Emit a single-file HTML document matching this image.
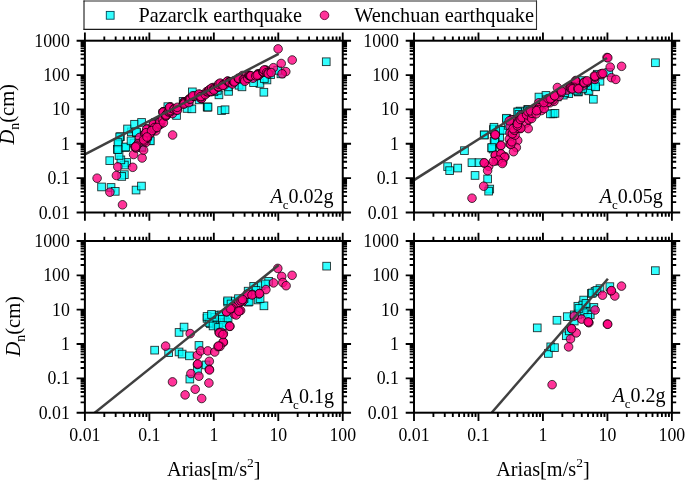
<!DOCTYPE html>
<html><head><meta charset="utf-8"><title>chart</title>
<style>html,body{margin:0;padding:0;background:#fff}svg{display:block;will-change:transform}text{fill:#000;font-family:"Liberation Serif",serif}</style></head>
<body>
<svg width="685" height="480" viewBox="0 0 685 480">
<rect x="0" y="0" width="685" height="480" fill="#fff"/>
<clipPath id="cp0"><rect x="84.9" y="40.7" width="257.85" height="171.8"/></clipPath>
<g clip-path="url(#cp0)">
<g fill="#00ffff" fill-opacity="0.8" stroke-opacity="0.8" stroke="#000" stroke-width="0.9">
<rect x="97.7" y="183.1" width="7.7" height="7.7"/><rect x="107.2" y="183.6" width="7.7" height="7.7"/><rect x="111.4" y="187.5" width="7.7" height="7.7"/><rect x="132.2" y="186.2" width="7.7" height="7.7"/><rect x="137.6" y="182.2" width="7.7" height="7.7"/><rect x="105.9" y="156.8" width="7.7" height="7.7"/><rect x="120.5" y="170.8" width="7.7" height="7.7"/><rect x="117.9" y="172.6" width="7.7" height="7.7"/><rect x="122.8" y="158.6" width="7.7" height="7.7"/><rect x="120.5" y="161.2" width="7.7" height="7.7"/><rect x="117.0" y="156.0" width="7.7" height="7.7"/><rect x="115.2" y="151.6" width="7.7" height="7.7"/><rect x="113.5" y="145.5" width="7.7" height="7.7"/><rect x="121.4" y="143.7" width="7.7" height="7.7"/><rect x="114.7" y="139.2" width="7.7" height="7.7"/><rect x="116.6" y="132.8" width="7.7" height="7.7"/><rect x="130.1" y="139.2" width="7.7" height="7.7"/><rect x="138.0" y="143.7" width="7.7" height="7.7"/><rect x="145.8" y="136.7" width="7.7" height="7.7"/><rect x="127.5" y="128.0" width="7.7" height="7.7"/><rect x="132.7" y="128.8" width="7.7" height="7.7"/><rect x="115.8" y="133.1" width="7.7" height="7.7"/><rect x="123.7" y="125.1" width="7.7" height="7.7"/><rect x="130.7" y="120.4" width="7.7" height="7.7"/><rect x="137.7" y="118.6" width="7.7" height="7.7"/><rect x="114.1" y="138.7" width="7.7" height="7.7"/><rect x="122.0" y="143.1" width="7.7" height="7.7"/><rect x="114.1" y="145.7" width="7.7" height="7.7"/><rect x="132.5" y="128.2" width="7.7" height="7.7"/><rect x="127.2" y="137.0" width="7.7" height="7.7"/><rect x="137.7" y="143.1" width="7.7" height="7.7"/><rect x="146.5" y="137.0" width="7.7" height="7.7"/><rect x="203.3" y="103.2" width="7.7" height="7.7"/><rect x="183.2" y="104.6" width="7.7" height="7.7"/><rect x="172.7" y="111.6" width="7.7" height="7.7"/><rect x="188.5" y="88.0" width="7.7" height="7.7"/><rect x="164.0" y="102.8" width="7.7" height="7.7"/><rect x="203.7" y="103.2" width="7.7" height="7.7"/><rect x="217.7" y="106.7" width="7.7" height="7.7"/><rect x="221.2" y="105.9" width="7.7" height="7.7"/><rect x="260.0" y="88.4" width="7.7" height="7.7"/><rect x="224.7" y="87.5" width="7.7" height="7.7"/><rect x="215.1" y="91.0" width="7.7" height="7.7"/><rect x="235.2" y="81.4" width="7.7" height="7.7"/><rect x="256.1" y="79.6" width="7.7" height="7.7"/><rect x="263.1" y="76.1" width="7.7" height="7.7"/><rect x="266.8" y="70.8" width="7.7" height="7.7"/><rect x="188.0" y="105.0" width="7.7" height="7.7"/><rect x="277.1" y="70.0" width="7.7" height="7.7"/><rect x="273.8" y="66.5" width="7.7" height="7.7"/><rect x="322.4" y="57.9" width="7.7" height="7.7"/><rect x="204.2" y="103.2" width="7.7" height="7.7"/><rect x="151.8" y="118.5" width="7.7" height="7.7"/><rect x="159.1" y="109.6" width="7.7" height="7.7"/><rect x="165.5" y="105.8" width="7.7" height="7.7"/><rect x="179.3" y="97.5" width="7.7" height="7.7"/><rect x="185.1" y="98.0" width="7.7" height="7.7"/><rect x="195.3" y="96.0" width="7.7" height="7.7"/><rect x="210.1" y="87.9" width="7.7" height="7.7"/><rect x="213.5" y="86.5" width="7.7" height="7.7"/><rect x="224.3" y="83.0" width="7.7" height="7.7"/><rect x="238.1" y="83.0" width="7.7" height="7.7"/><rect x="249.7" y="78.8" width="7.7" height="7.7"/><rect x="260.5" y="74.7" width="7.7" height="7.7"/>
</g>
<g fill="#ff007f" fill-opacity="0.8" stroke-opacity="0.8" stroke="#000" stroke-width="0.9">
<circle cx="97.1" cy="178.2" r="4.3"/><circle cx="109.9" cy="192.2" r="4.3"/><circle cx="122.5" cy="204.8" r="4.3"/><circle cx="116.4" cy="175.5" r="4.3"/><circle cx="117.8" cy="166.8" r="4.3"/><circle cx="132.7" cy="167.3" r="4.3"/><circle cx="142.1" cy="158.0" r="4.3"/><circle cx="133.6" cy="154.5" r="4.3"/><circle cx="136.0" cy="148.0" r="4.3"/><circle cx="142.3" cy="140.9" r="4.3"/><circle cx="139.7" cy="137.4" r="4.3"/><circle cx="147.4" cy="137.9" r="4.3"/><circle cx="172.6" cy="135.0" r="4.3"/><circle cx="151.4" cy="131.8" r="4.3"/><circle cx="155.8" cy="130.9" r="4.3"/><circle cx="278.1" cy="48.9" r="4.3"/><circle cx="292.2" cy="60.0" r="4.3"/><circle cx="281.2" cy="63.5" r="4.3"/><circle cx="273.4" cy="67.7" r="4.3"/><circle cx="285.8" cy="71.6" r="4.3"/><circle cx="282.1" cy="73.8" r="4.3"/><circle cx="266.2" cy="70.3" r="4.3"/><circle cx="260.0" cy="73.8" r="4.3"/><circle cx="253.0" cy="78.2" r="4.3"/><circle cx="242.5" cy="75.5" r="4.3"/><circle cx="143.6" cy="150.1" r="4.3"/><circle cx="138.0" cy="143.9" r="4.3"/><circle cx="135.1" cy="146.9" r="4.3"/><circle cx="136.5" cy="146.0" r="4.3"/><circle cx="135.6" cy="146.9" r="4.3"/><circle cx="145.9" cy="142.4" r="4.3"/><circle cx="144.6" cy="141.1" r="4.3"/><circle cx="147.5" cy="136.0" r="4.3"/><circle cx="147.1" cy="135.3" r="4.3"/><circle cx="147.4" cy="138.1" r="4.3"/><circle cx="145.0" cy="133.6" r="4.3"/><circle cx="145.0" cy="133.8" r="4.3"/><circle cx="150.0" cy="132.8" r="4.3"/><circle cx="150.9" cy="132.6" r="4.3"/><circle cx="149.9" cy="133.5" r="4.3"/><circle cx="146.0" cy="138.3" r="4.3"/><circle cx="147.3" cy="128.8" r="4.3"/><circle cx="146.7" cy="129.2" r="4.3"/><circle cx="146.1" cy="132.7" r="4.3"/><circle cx="152.8" cy="128.0" r="4.3"/><circle cx="153.5" cy="128.4" r="4.3"/><circle cx="157.2" cy="125.6" r="4.3"/><circle cx="157.0" cy="124.5" r="4.3"/><circle cx="153.9" cy="123.5" r="4.3"/><circle cx="153.3" cy="124.4" r="4.3"/><circle cx="155.1" cy="128.4" r="4.3"/><circle cx="154.6" cy="127.5" r="4.3"/><circle cx="159.2" cy="124.7" r="4.3"/><circle cx="160.6" cy="124.2" r="4.3"/><circle cx="159.7" cy="123.7" r="4.3"/><circle cx="159.9" cy="121.7" r="4.3"/><circle cx="162.4" cy="119.6" r="4.3"/><circle cx="163.6" cy="111.7" r="4.3"/><circle cx="163.0" cy="111.8" r="4.3"/><circle cx="163.1" cy="112.2" r="4.3"/><circle cx="151.5" cy="130.7" r="4.3"/><circle cx="163.4" cy="122.8" r="4.3"/><circle cx="143.6" cy="139.9" r="4.3"/><circle cx="172.5" cy="113.6" r="4.3"/><circle cx="157.0" cy="127.5" r="4.3"/><circle cx="147.0" cy="137.0" r="4.3"/><circle cx="165.8" cy="116.1" r="4.3"/><circle cx="166.0" cy="115.7" r="4.3"/><circle cx="166.0" cy="114.9" r="4.3"/><circle cx="168.3" cy="111.8" r="4.3"/><circle cx="169.1" cy="111.8" r="4.3"/><circle cx="170.6" cy="111.6" r="4.3"/><circle cx="170.7" cy="110.5" r="4.3"/><circle cx="171.2" cy="108.1" r="4.3"/><circle cx="170.5" cy="106.9" r="4.3"/><circle cx="169.6" cy="107.4" r="4.3"/><circle cx="174.2" cy="108.8" r="4.3"/><circle cx="174.1" cy="109.4" r="4.3"/><circle cx="177.0" cy="109.2" r="4.3"/><circle cx="176.4" cy="110.0" r="4.3"/><circle cx="177.4" cy="110.2" r="4.3"/><circle cx="177.3" cy="107.3" r="4.3"/><circle cx="183.4" cy="104.1" r="4.3"/><circle cx="184.1" cy="102.0" r="4.3"/><circle cx="183.8" cy="101.9" r="4.3"/><circle cx="185.2" cy="102.8" r="4.3"/><circle cx="184.6" cy="102.7" r="4.3"/><circle cx="184.4" cy="102.6" r="4.3"/><circle cx="184.1" cy="103.9" r="4.3"/><circle cx="189.0" cy="99.0" r="4.3"/><circle cx="188.8" cy="102.6" r="4.3"/><circle cx="189.8" cy="98.9" r="4.3"/><circle cx="190.3" cy="99.1" r="4.3"/><circle cx="193.9" cy="96.0" r="4.3"/><circle cx="194.0" cy="96.3" r="4.3"/><circle cx="192.7" cy="95.8" r="4.3"/><circle cx="199.7" cy="94.6" r="4.3"/><circle cx="200.2" cy="94.6" r="4.3"/><circle cx="198.9" cy="94.0" r="4.3"/><circle cx="201.3" cy="98.5" r="4.3"/><circle cx="200.5" cy="98.2" r="4.3"/><circle cx="201.7" cy="98.5" r="4.3"/><circle cx="201.5" cy="96.7" r="4.3"/><circle cx="200.7" cy="96.5" r="4.3"/><circle cx="206.5" cy="93.4" r="4.3"/><circle cx="205.2" cy="94.6" r="4.3"/><circle cx="206.7" cy="91.6" r="4.3"/><circle cx="207.9" cy="91.8" r="4.3"/><circle cx="208.6" cy="90.5" r="4.3"/><circle cx="209.8" cy="89.5" r="4.3"/><circle cx="211.1" cy="91.7" r="4.3"/><circle cx="211.7" cy="90.1" r="4.3"/><circle cx="210.7" cy="91.4" r="4.3"/><circle cx="213.5" cy="88.2" r="4.3"/><circle cx="213.1" cy="87.5" r="4.3"/><circle cx="211.6" cy="88.1" r="4.3"/><circle cx="214.5" cy="89.6" r="4.3"/><circle cx="213.8" cy="88.8" r="4.3"/><circle cx="213.9" cy="90.1" r="4.3"/><circle cx="220.8" cy="84.1" r="4.3"/><circle cx="219.1" cy="85.8" r="4.3"/><circle cx="217.9" cy="86.5" r="4.3"/><circle cx="218.5" cy="87.2" r="4.3"/><circle cx="218.4" cy="86.7" r="4.3"/><circle cx="218.6" cy="84.1" r="4.3"/><circle cx="220.2" cy="83.1" r="4.3"/><circle cx="223.3" cy="84.6" r="4.3"/><circle cx="224.5" cy="85.1" r="4.3"/><circle cx="222.8" cy="85.4" r="4.3"/><circle cx="227.8" cy="81.1" r="4.3"/><circle cx="227.4" cy="81.2" r="4.3"/><circle cx="229.3" cy="82.0" r="4.3"/><circle cx="229.3" cy="82.3" r="4.3"/><circle cx="229.7" cy="82.2" r="4.3"/><circle cx="232.4" cy="84.0" r="4.3"/><circle cx="233.2" cy="81.4" r="4.3"/><circle cx="234.1" cy="81.5" r="4.3"/><circle cx="233.8" cy="81.1" r="4.3"/><circle cx="235.1" cy="81.2" r="4.3"/><circle cx="234.3" cy="82.0" r="4.3"/><circle cx="238.4" cy="78.7" r="4.3"/><circle cx="238.4" cy="78.2" r="4.3"/><circle cx="240.2" cy="78.2" r="4.3"/><circle cx="238.7" cy="78.5" r="4.3"/><circle cx="243.4" cy="79.4" r="4.3"/><circle cx="244.3" cy="79.9" r="4.3"/><circle cx="244.8" cy="81.3" r="4.3"/><circle cx="247.8" cy="78.4" r="4.3"/><circle cx="249.3" cy="75.6" r="4.3"/><circle cx="248.9" cy="75.2" r="4.3"/><circle cx="249.8" cy="75.6" r="4.3"/><circle cx="250.3" cy="75.7" r="4.3"/><circle cx="250.9" cy="75.9" r="4.3"/><circle cx="258.4" cy="75.5" r="4.3"/><circle cx="258.5" cy="75.1" r="4.3"/><circle cx="257.4" cy="74.7" r="4.3"/><circle cx="255.7" cy="75.9" r="4.3"/><circle cx="258.0" cy="73.7" r="4.3"/><circle cx="258.1" cy="74.6" r="4.3"/><circle cx="257.2" cy="75.2" r="4.3"/><circle cx="263.1" cy="72.0" r="4.3"/><circle cx="263.1" cy="72.2" r="4.3"/><circle cx="263.5" cy="71.7" r="4.3"/><circle cx="265.3" cy="70.0" r="4.3"/><circle cx="264.0" cy="70.0" r="4.3"/><circle cx="266.6" cy="72.6" r="4.3"/><circle cx="268.1" cy="73.1" r="4.3"/><circle cx="268.3" cy="73.8" r="4.3"/><circle cx="271.2" cy="72.6" r="4.3"/>
</g>
<path d="M84.9 154.3L278.7 53.8" stroke="#404040" stroke-width="2.5" fill="none"/>
</g>
<rect x="84.9" y="40.7" width="257.85" height="171.8" fill="none" stroke="#000" stroke-width="2"/>
<path d="M84.9 40.7v-8.3M84.9 212.5v8.3M104.31 40.7v-4.3M104.31 212.5v4.3M115.66 40.7v-4.3M115.66 212.5v4.3M123.71 40.7v-4.3M123.71 212.5v4.3M129.96 40.7v-4.3M129.96 212.5v4.3M135.06 40.7v-4.3M135.06 212.5v4.3M139.38 40.7v-4.3M139.38 212.5v4.3M143.12 40.7v-4.3M143.12 212.5v4.3M146.41 40.7v-4.3M146.41 212.5v4.3M149.36 40.7v-8.3M149.36 212.5v8.3M168.77 40.7v-4.3M168.77 212.5v4.3M180.12 40.7v-4.3M180.12 212.5v4.3M188.17 40.7v-4.3M188.17 212.5v4.3M194.42 40.7v-4.3M194.42 212.5v4.3M199.52 40.7v-4.3M199.52 212.5v4.3M203.84 40.7v-4.3M203.84 212.5v4.3M207.58 40.7v-4.3M207.58 212.5v4.3M210.88 40.7v-4.3M210.88 212.5v4.3M213.83 40.7v-8.3M213.83 212.5v8.3M233.23 40.7v-4.3M233.23 212.5v4.3M244.58 40.7v-4.3M244.58 212.5v4.3M252.64 40.7v-4.3M252.64 212.5v4.3M258.88 40.7v-4.3M258.88 212.5v4.3M263.99 40.7v-4.3M263.99 212.5v4.3M268.3 40.7v-4.3M268.3 212.5v4.3M272.04 40.7v-4.3M272.04 212.5v4.3M275.34 40.7v-4.3M275.34 212.5v4.3M278.29 40.7v-8.3M278.29 212.5v8.3M297.69 40.7v-4.3M297.69 212.5v4.3M309.04 40.7v-4.3M309.04 212.5v4.3M317.1 40.7v-4.3M317.1 212.5v4.3M323.34 40.7v-4.3M323.34 212.5v4.3M328.45 40.7v-4.3M328.45 212.5v4.3M332.76 40.7v-4.3M332.76 212.5v4.3M336.5 40.7v-4.3M336.5 212.5v4.3M339.8 40.7v-4.3M339.8 212.5v4.3M342.75 40.7v-8.3M342.75 212.5v8.3M84.9 212.5h-8.3M342.75 212.5h8.3M84.9 202.16h-4.3M342.75 202.16h4.3M84.9 196.11h-4.3M342.75 196.11h4.3M84.9 191.81h-4.3M342.75 191.81h4.3M84.9 188.48h-4.3M342.75 188.48h4.3M84.9 185.76h-4.3M342.75 185.76h4.3M84.9 183.46h-4.3M342.75 183.46h4.3M84.9 181.47h-4.3M342.75 181.47h4.3M84.9 179.71h-4.3M342.75 179.71h4.3M84.9 178.14h-8.3M342.75 178.14h8.3M84.9 167.8h-4.3M342.75 167.8h4.3M84.9 161.75h-4.3M342.75 161.75h4.3M84.9 157.45h-4.3M342.75 157.45h4.3M84.9 154.12h-4.3M342.75 154.12h4.3M84.9 151.4h-4.3M342.75 151.4h4.3M84.9 149.1h-4.3M342.75 149.1h4.3M84.9 147.11h-4.3M342.75 147.11h4.3M84.9 145.35h-4.3M342.75 145.35h4.3M84.9 143.78h-8.3M342.75 143.78h8.3M84.9 133.44h-4.3M342.75 133.44h4.3M84.9 127.39h-4.3M342.75 127.39h4.3M84.9 123.09h-4.3M342.75 123.09h4.3M84.9 119.76h-4.3M342.75 119.76h4.3M84.9 117.04h-4.3M342.75 117.04h4.3M84.9 114.74h-4.3M342.75 114.74h4.3M84.9 112.75h-4.3M342.75 112.75h4.3M84.9 110.99h-4.3M342.75 110.99h4.3M84.9 109.42h-8.3M342.75 109.42h8.3M84.9 99.08h-4.3M342.75 99.08h4.3M84.9 93.03h-4.3M342.75 93.03h4.3M84.9 88.73h-4.3M342.75 88.73h4.3M84.9 85.4h-4.3M342.75 85.4h4.3M84.9 82.68h-4.3M342.75 82.68h4.3M84.9 80.38h-4.3M342.75 80.38h4.3M84.9 78.39h-4.3M342.75 78.39h4.3M84.9 76.63h-4.3M342.75 76.63h4.3M84.9 75.06h-8.3M342.75 75.06h8.3M84.9 64.72h-4.3M342.75 64.72h4.3M84.9 58.67h-4.3M342.75 58.67h4.3M84.9 54.37h-4.3M342.75 54.37h4.3M84.9 51.04h-4.3M342.75 51.04h4.3M84.9 48.32h-4.3M342.75 48.32h4.3M84.9 46.02h-4.3M342.75 46.02h4.3M84.9 44.03h-4.3M342.75 44.03h4.3M84.9 42.27h-4.3M342.75 42.27h4.3M84.9 40.7h-8.3M342.75 40.7h8.3" stroke="#000" stroke-width="1.85" fill="none"/>
<text x="69.8" y="218.5" text-anchor="end"  font-size="17.8">0.01</text>
<text x="69.8" y="184.14" text-anchor="end"  font-size="17.8">0.1</text>
<text x="69.8" y="149.78" text-anchor="end"  font-size="17.8">1</text>
<text x="69.8" y="115.42" text-anchor="end"  font-size="17.8">10</text>
<text x="69.8" y="81.06" text-anchor="end"  font-size="17.8">100</text>
<text x="69.8" y="46.7" text-anchor="end"  font-size="17.8">1000</text>
<text transform="translate(14.3 114.3) rotate(-90)" text-anchor="middle"  font-size="20.5"><tspan font-style="italic">D</tspan><tspan font-size="13.8" dy="5">n</tspan><tspan dy="-5">(cm)</tspan></text>
<text x="333.5" y="202.5" text-anchor="end"  font-size="20"><tspan font-style="italic">A</tspan><tspan font-size="13" dy="6">c</tspan><tspan dy="-6">0.02g</tspan></text>
<clipPath id="cp1"><rect x="414" y="40.7" width="257.9" height="171.8"/></clipPath>
<g clip-path="url(#cp1)">
<g fill="#00ffff" fill-opacity="0.8" stroke-opacity="0.8" stroke="#000" stroke-width="0.9">
<rect x="443.8" y="162.8" width="7.7" height="7.7"/><rect x="445.8" y="166.8" width="7.7" height="7.7"/><rect x="453.9" y="164.2" width="7.7" height="7.7"/><rect x="460.6" y="146.8" width="7.7" height="7.7"/><rect x="468.1" y="158.8" width="7.7" height="7.7"/><rect x="475.1" y="158.8" width="7.7" height="7.7"/><rect x="471.2" y="171.6" width="7.7" height="7.7"/><rect x="483.8" y="175.1" width="7.7" height="7.7"/><rect x="485.9" y="185.2" width="7.7" height="7.7"/><rect x="484.8" y="187.3" width="7.7" height="7.7"/><rect x="480.5" y="131.1" width="7.7" height="7.7"/><rect x="490.2" y="125.2" width="7.7" height="7.7"/><rect x="490.2" y="137.6" width="7.7" height="7.7"/><rect x="489.2" y="145.2" width="7.7" height="7.7"/><rect x="495.8" y="126.8" width="7.7" height="7.7"/><rect x="495.8" y="133.2" width="7.7" height="7.7"/><rect x="504.3" y="115.9" width="7.7" height="7.7"/><rect x="516.2" y="107.2" width="7.7" height="7.7"/><rect x="549.1" y="110.0" width="7.7" height="7.7"/><rect x="546.6" y="110.0" width="7.7" height="7.7"/><rect x="551.1" y="109.5" width="7.7" height="7.7"/><rect x="535.1" y="93.2" width="7.7" height="7.7"/><rect x="542.1" y="91.6" width="7.7" height="7.7"/><rect x="523.9" y="105.6" width="7.7" height="7.7"/><rect x="514.1" y="108.2" width="7.7" height="7.7"/><rect x="502.8" y="115.2" width="7.7" height="7.7"/><rect x="489.6" y="125.7" width="7.7" height="7.7"/><rect x="491.4" y="138.0" width="7.7" height="7.7"/><rect x="487.9" y="144.1" width="7.7" height="7.7"/><rect x="574.5" y="88.1" width="7.7" height="7.7"/><rect x="584.1" y="86.2" width="7.7" height="7.7"/><rect x="564.9" y="89.8" width="7.7" height="7.7"/><rect x="578.1" y="76.7" width="7.7" height="7.7"/><rect x="651.6" y="58.9" width="7.7" height="7.7"/><rect x="589.5" y="95.4" width="7.7" height="7.7"/><rect x="585.1" y="87.0" width="7.7" height="7.7"/><rect x="591.8" y="82.6" width="7.7" height="7.7"/><rect x="574.2" y="87.9" width="7.7" height="7.7"/><rect x="596.1" y="77.4" width="7.7" height="7.7"/><rect x="604.9" y="68.6" width="7.7" height="7.7"/><rect x="593.5" y="70.4" width="7.7" height="7.7"/><rect x="480.3" y="131.1" width="7.7" height="7.7"/><rect x="490.1" y="123.4" width="7.7" height="7.7"/><rect x="495.8" y="126.2" width="7.7" height="7.7"/><rect x="490.8" y="137.3" width="7.7" height="7.7"/><rect x="488.0" y="143.7" width="7.7" height="7.7"/><rect x="502.6" y="114.4" width="7.7" height="7.7"/><rect x="513.9" y="108.1" width="7.7" height="7.7"/><rect x="524.4" y="106.0" width="7.7" height="7.7"/><rect x="499.4" y="126.4" width="7.7" height="7.7"/><rect x="504.6" y="121.6" width="7.7" height="7.7"/><rect x="509.4" y="115.6" width="7.7" height="7.7"/><rect x="515.2" y="110.6" width="7.7" height="7.7"/><rect x="523.8" y="107.1" width="7.7" height="7.7"/><rect x="527.5" y="108.3" width="7.7" height="7.7"/><rect x="534.5" y="104.0" width="7.7" height="7.7"/><rect x="539.1" y="99.1" width="7.7" height="7.7"/><rect x="542.7" y="95.9" width="7.7" height="7.7"/><rect x="553.4" y="93.1" width="7.7" height="7.7"/><rect x="559.4" y="91.3" width="7.7" height="7.7"/><rect x="560.9" y="88.9" width="7.7" height="7.7"/><rect x="572.9" y="86.5" width="7.7" height="7.7"/><rect x="578.7" y="84.6" width="7.7" height="7.7"/><rect x="587.3" y="81.6" width="7.7" height="7.7"/><rect x="591.6" y="83.0" width="7.7" height="7.7"/>
</g>
<g fill="#ff007f" fill-opacity="0.8" stroke-opacity="0.8" stroke="#000" stroke-width="0.9">
<circle cx="472.0" cy="198.2" r="4.3"/><circle cx="483.7" cy="186.2" r="4.3"/><circle cx="484.4" cy="163.1" r="4.3"/><circle cx="488.7" cy="166.3" r="4.3"/><circle cx="487.6" cy="170.6" r="4.3"/><circle cx="495.2" cy="134.9" r="4.3"/><circle cx="500.6" cy="145.7" r="4.3"/><circle cx="495.2" cy="155.5" r="4.3"/><circle cx="500.6" cy="154.4" r="4.3"/><circle cx="496.3" cy="160.9" r="4.3"/><circle cx="502.8" cy="162.0" r="4.3"/><circle cx="505.0" cy="156.6" r="4.3"/><circle cx="494.7" cy="134.2" r="4.3"/><circle cx="501.0" cy="145.4" r="4.3"/><circle cx="495.4" cy="155.2" r="4.3"/><circle cx="501.0" cy="153.8" r="4.3"/><circle cx="504.4" cy="157.3" r="4.3"/><circle cx="498.2" cy="160.1" r="4.3"/><circle cx="493.3" cy="161.5" r="4.3"/><circle cx="484.2" cy="162.8" r="4.3"/><circle cx="502.3" cy="163.5" r="4.3"/><circle cx="510.0" cy="126.5" r="4.3"/><circle cx="516.3" cy="122.3" r="4.3"/><circle cx="511.4" cy="119.6" r="4.3"/><circle cx="520.5" cy="115.4" r="4.3"/><circle cx="530.3" cy="117.5" r="4.3"/><circle cx="526.1" cy="123.0" r="4.3"/><circle cx="520.5" cy="128.6" r="4.3"/><circle cx="514.9" cy="130.0" r="4.3"/><circle cx="528.2" cy="128.6" r="4.3"/><circle cx="510.0" cy="132.8" r="4.3"/><circle cx="509.3" cy="139.1" r="4.3"/><circle cx="517.7" cy="140.5" r="4.3"/><circle cx="510.0" cy="144.0" r="4.3"/><circle cx="516.3" cy="147.5" r="4.3"/><circle cx="513.5" cy="151.7" r="4.3"/><circle cx="537.3" cy="107.0" r="4.3"/><circle cx="541.5" cy="110.5" r="4.3"/><circle cx="545.0" cy="104.2" r="4.3"/><circle cx="549.8" cy="102.8" r="4.3"/><circle cx="554.0" cy="101.4" r="4.3"/><circle cx="538.7" cy="102.8" r="4.3"/><circle cx="495.3" cy="134.8" r="4.3"/><circle cx="509.3" cy="120.8" r="4.3"/><circle cx="519.8" cy="117.3" r="4.3"/><circle cx="530.3" cy="117.3" r="4.3"/><circle cx="539.0" cy="107.7" r="4.3"/><circle cx="547.8" cy="102.4" r="4.3"/><circle cx="553.0" cy="99.8" r="4.3"/><circle cx="559.2" cy="96.3" r="4.3"/><circle cx="557.4" cy="87.5" r="4.3"/><circle cx="567.1" cy="90.1" r="4.3"/><circle cx="572.3" cy="84.9" r="4.3"/><circle cx="575.8" cy="80.5" r="4.3"/><circle cx="582.8" cy="85.8" r="4.3"/><circle cx="587.2" cy="82.3" r="4.3"/><circle cx="607.0" cy="57.5" r="4.3"/><circle cx="607.8" cy="57.8" r="4.3"/><circle cx="621.6" cy="66.3" r="4.3"/><circle cx="610.2" cy="67.1" r="4.3"/><circle cx="602.1" cy="73.8" r="4.3"/><circle cx="611.4" cy="77.7" r="4.3"/><circle cx="615.8" cy="79.4" r="4.3"/><circle cx="594.8" cy="79.4" r="4.3"/><circle cx="586.9" cy="82.0" r="4.3"/><circle cx="579.9" cy="85.5" r="4.3"/><circle cx="575.5" cy="81.2" r="4.3"/><circle cx="573.8" cy="87.3" r="4.3"/><circle cx="510.8" cy="144.4" r="4.3"/><circle cx="511.8" cy="141.8" r="4.3"/><circle cx="512.7" cy="133.9" r="4.3"/><circle cx="515.1" cy="135.1" r="4.3"/><circle cx="512.3" cy="133.7" r="4.3"/><circle cx="514.5" cy="130.3" r="4.3"/><circle cx="518.3" cy="128.3" r="4.3"/><circle cx="513.1" cy="128.7" r="4.3"/><circle cx="520.8" cy="128.1" r="4.3"/><circle cx="517.4" cy="125.8" r="4.3"/><circle cx="518.8" cy="120.6" r="4.3"/><circle cx="517.5" cy="123.7" r="4.3"/><circle cx="520.4" cy="119.4" r="4.3"/><circle cx="522.0" cy="117.6" r="4.3"/><circle cx="528.8" cy="119.7" r="4.3"/><circle cx="526.6" cy="114.8" r="4.3"/><circle cx="531.7" cy="118.5" r="4.3"/><circle cx="528.0" cy="111.7" r="4.3"/><circle cx="532.0" cy="113.3" r="4.3"/><circle cx="530.4" cy="110.8" r="4.3"/><circle cx="536.2" cy="113.8" r="4.3"/><circle cx="538.2" cy="109.6" r="4.3"/><circle cx="536.6" cy="110.7" r="4.3"/><circle cx="544.2" cy="108.6" r="4.3"/><circle cx="543.9" cy="102.5" r="4.3"/><circle cx="548.0" cy="98.6" r="4.3"/><circle cx="551.7" cy="98.4" r="4.3"/><circle cx="550.3" cy="98.8" r="4.3"/><circle cx="554.4" cy="95.6" r="4.3"/><circle cx="554.7" cy="95.8" r="4.3"/><circle cx="561.6" cy="92.4" r="4.3"/><circle cx="561.5" cy="91.2" r="4.3"/><circle cx="570.7" cy="86.8" r="4.3"/><circle cx="570.1" cy="87.3" r="4.3"/><circle cx="570.5" cy="88.1" r="4.3"/><circle cx="571.5" cy="88.9" r="4.3"/><circle cx="572.6" cy="88.9" r="4.3"/><circle cx="577.8" cy="88.5" r="4.3"/><circle cx="578.6" cy="88.9" r="4.3"/><circle cx="584.1" cy="82.8" r="4.3"/><circle cx="584.5" cy="81.9" r="4.3"/><circle cx="584.1" cy="82.6" r="4.3"/><circle cx="587.1" cy="80.8" r="4.3"/><circle cx="595.0" cy="77.1" r="4.3"/><circle cx="594.4" cy="75.9" r="4.3"/><circle cx="595.0" cy="76.2" r="4.3"/><circle cx="601.8" cy="74.8" r="4.3"/><circle cx="601.1" cy="73.7" r="4.3"/><circle cx="602.9" cy="73.4" r="4.3"/>
</g>
<path d="M414.0 180.1L607.0 58.0" stroke="#404040" stroke-width="2.5" fill="none"/>
</g>
<rect x="414" y="40.7" width="257.9" height="171.8" fill="none" stroke="#000" stroke-width="2"/>
<path d="M414 40.7v-8.3M414 212.5v8.3M433.41 40.7v-4.3M433.41 212.5v4.3M444.76 40.7v-4.3M444.76 212.5v4.3M452.82 40.7v-4.3M452.82 212.5v4.3M459.07 40.7v-4.3M459.07 212.5v4.3M464.17 40.7v-4.3M464.17 212.5v4.3M468.49 40.7v-4.3M468.49 212.5v4.3M472.23 40.7v-4.3M472.23 212.5v4.3M475.52 40.7v-4.3M475.52 212.5v4.3M478.48 40.7v-8.3M478.48 212.5v8.3M497.88 40.7v-4.3M497.88 212.5v4.3M509.24 40.7v-4.3M509.24 212.5v4.3M517.29 40.7v-4.3M517.29 212.5v4.3M523.54 40.7v-4.3M523.54 212.5v4.3M528.65 40.7v-4.3M528.65 212.5v4.3M532.96 40.7v-4.3M532.96 212.5v4.3M536.7 40.7v-4.3M536.7 212.5v4.3M540 40.7v-4.3M540 212.5v4.3M542.95 40.7v-8.3M542.95 212.5v8.3M562.36 40.7v-4.3M562.36 212.5v4.3M573.71 40.7v-4.3M573.71 212.5v4.3M581.77 40.7v-4.3M581.77 212.5v4.3M588.02 40.7v-4.3M588.02 212.5v4.3M593.12 40.7v-4.3M593.12 212.5v4.3M597.44 40.7v-4.3M597.44 212.5v4.3M601.18 40.7v-4.3M601.18 212.5v4.3M604.47 40.7v-4.3M604.47 212.5v4.3M607.42 40.7v-8.3M607.42 212.5v8.3M626.83 40.7v-4.3M626.83 212.5v4.3M638.19 40.7v-4.3M638.19 212.5v4.3M646.24 40.7v-4.3M646.24 212.5v4.3M652.49 40.7v-4.3M652.49 212.5v4.3M657.6 40.7v-4.3M657.6 212.5v4.3M661.91 40.7v-4.3M661.91 212.5v4.3M665.65 40.7v-4.3M665.65 212.5v4.3M668.95 40.7v-4.3M668.95 212.5v4.3M671.9 40.7v-8.3M671.9 212.5v8.3M414 212.5h-8.3M671.9 212.5h8.3M414 202.16h-4.3M671.9 202.16h4.3M414 196.11h-4.3M671.9 196.11h4.3M414 191.81h-4.3M671.9 191.81h4.3M414 188.48h-4.3M671.9 188.48h4.3M414 185.76h-4.3M671.9 185.76h4.3M414 183.46h-4.3M671.9 183.46h4.3M414 181.47h-4.3M671.9 181.47h4.3M414 179.71h-4.3M671.9 179.71h4.3M414 178.14h-8.3M671.9 178.14h8.3M414 167.8h-4.3M671.9 167.8h4.3M414 161.75h-4.3M671.9 161.75h4.3M414 157.45h-4.3M671.9 157.45h4.3M414 154.12h-4.3M671.9 154.12h4.3M414 151.4h-4.3M671.9 151.4h4.3M414 149.1h-4.3M671.9 149.1h4.3M414 147.11h-4.3M671.9 147.11h4.3M414 145.35h-4.3M671.9 145.35h4.3M414 143.78h-8.3M671.9 143.78h8.3M414 133.44h-4.3M671.9 133.44h4.3M414 127.39h-4.3M671.9 127.39h4.3M414 123.09h-4.3M671.9 123.09h4.3M414 119.76h-4.3M671.9 119.76h4.3M414 117.04h-4.3M671.9 117.04h4.3M414 114.74h-4.3M671.9 114.74h4.3M414 112.75h-4.3M671.9 112.75h4.3M414 110.99h-4.3M671.9 110.99h4.3M414 109.42h-8.3M671.9 109.42h8.3M414 99.08h-4.3M671.9 99.08h4.3M414 93.03h-4.3M671.9 93.03h4.3M414 88.73h-4.3M671.9 88.73h4.3M414 85.4h-4.3M671.9 85.4h4.3M414 82.68h-4.3M671.9 82.68h4.3M414 80.38h-4.3M671.9 80.38h4.3M414 78.39h-4.3M671.9 78.39h4.3M414 76.63h-4.3M671.9 76.63h4.3M414 75.06h-8.3M671.9 75.06h8.3M414 64.72h-4.3M671.9 64.72h4.3M414 58.67h-4.3M671.9 58.67h4.3M414 54.37h-4.3M671.9 54.37h4.3M414 51.04h-4.3M671.9 51.04h4.3M414 48.32h-4.3M671.9 48.32h4.3M414 46.02h-4.3M671.9 46.02h4.3M414 44.03h-4.3M671.9 44.03h4.3M414 42.27h-4.3M671.9 42.27h4.3M414 40.7h-8.3M671.9 40.7h8.3" stroke="#000" stroke-width="1.85" fill="none"/>
<text x="398.9" y="218.5" text-anchor="end"  font-size="17.8">0.01</text>
<text x="398.9" y="184.14" text-anchor="end"  font-size="17.8">0.1</text>
<text x="398.9" y="149.78" text-anchor="end"  font-size="17.8">1</text>
<text x="398.9" y="115.42" text-anchor="end"  font-size="17.8">10</text>
<text x="398.9" y="81.06" text-anchor="end"  font-size="17.8">100</text>
<text x="398.9" y="46.7" text-anchor="end"  font-size="17.8">1000</text>
<text x="662.8" y="202.6" text-anchor="end"  font-size="20"><tspan font-style="italic">A</tspan><tspan font-size="13" dy="6">c</tspan><tspan dy="-6">0.05g</tspan></text>
<clipPath id="cp2"><rect x="84.9" y="241" width="257.85" height="171.7"/></clipPath>
<g clip-path="url(#cp2)">
<g fill="#00ffff" fill-opacity="0.8" stroke-opacity="0.8" stroke="#000" stroke-width="0.9">
<rect x="150.8" y="346.3" width="7.7" height="7.7"/><rect x="164.8" y="348.8" width="7.7" height="7.7"/><rect x="175.2" y="348.1" width="7.7" height="7.7"/><rect x="178.3" y="350.2" width="7.7" height="7.7"/><rect x="185.6" y="352.0" width="7.7" height="7.7"/><rect x="175.2" y="328.6" width="7.7" height="7.7"/><rect x="180.2" y="323.2" width="7.7" height="7.7"/><rect x="195.1" y="341.6" width="7.7" height="7.7"/><rect x="203.2" y="314.5" width="7.7" height="7.7"/><rect x="206.6" y="319.9" width="7.7" height="7.7"/><rect x="212.0" y="317.8" width="7.7" height="7.7"/><rect x="215.2" y="311.3" width="7.7" height="7.7"/><rect x="217.3" y="318.8" width="7.7" height="7.7"/><rect x="221.8" y="317.8" width="7.7" height="7.7"/><rect x="223.8" y="298.3" width="7.7" height="7.7"/><rect x="231.5" y="297.2" width="7.7" height="7.7"/><rect x="244.5" y="298.3" width="7.7" height="7.7"/><rect x="254.2" y="296.1" width="7.7" height="7.7"/><rect x="186.0" y="375.2" width="7.7" height="7.7"/><rect x="193.6" y="366.5" width="7.7" height="7.7"/><rect x="202.2" y="361.1" width="7.7" height="7.7"/><rect x="322.8" y="262.3" width="7.7" height="7.7"/><rect x="260.1" y="302.0" width="7.7" height="7.7"/><rect x="256.2" y="294.8" width="7.7" height="7.7"/><rect x="245.3" y="297.6" width="7.7" height="7.7"/><rect x="223.8" y="297.0" width="7.7" height="7.7"/><rect x="234.6" y="294.8" width="7.7" height="7.7"/><rect x="249.8" y="282.5" width="7.7" height="7.7"/><rect x="257.3" y="281.8" width="7.7" height="7.7"/><rect x="264.8" y="277.5" width="7.7" height="7.7"/><rect x="244.3" y="287.3" width="7.7" height="7.7"/><rect x="220.5" y="315.4" width="7.7" height="7.7"/><rect x="217.2" y="311.1" width="7.7" height="7.7"/><rect x="222.7" y="318.8" width="7.7" height="7.7"/><rect x="208.8" y="316.8" width="7.7" height="7.7"/><rect x="213.1" y="321.0" width="7.7" height="7.7"/><rect x="210.8" y="313.4" width="7.7" height="7.7"/><rect x="218.5" y="315.6" width="7.7" height="7.7"/><rect x="205.2" y="318.6" width="7.7" height="7.7"/><rect x="209.2" y="322.1" width="7.7" height="7.7"/><rect x="214.7" y="323.6" width="7.7" height="7.7"/><rect x="219.2" y="321.6" width="7.7" height="7.7"/><rect x="203.2" y="312.6" width="7.7" height="7.7"/><rect x="207.7" y="310.6" width="7.7" height="7.7"/><rect x="224.2" y="314.1" width="7.7" height="7.7"/><rect x="227.2" y="300.1" width="7.7" height="7.7"/><rect x="240.2" y="294.6" width="7.7" height="7.7"/><rect x="252.2" y="286.6" width="7.7" height="7.7"/><rect x="261.6" y="280.1" width="7.7" height="7.7"/>
</g>
<g fill="#ff007f" fill-opacity="0.8" stroke-opacity="0.8" stroke="#000" stroke-width="0.9">
<circle cx="165.6" cy="346.1" r="4.3"/><circle cx="172.5" cy="381.9" r="4.3"/><circle cx="185.1" cy="394.9" r="4.3"/><circle cx="195.2" cy="389.2" r="4.3"/><circle cx="201.7" cy="398.5" r="4.3"/><circle cx="208.9" cy="383.0" r="4.3"/><circle cx="190.9" cy="373.6" r="4.3"/><circle cx="198.9" cy="376.2" r="4.3"/><circle cx="197.4" cy="364.5" r="4.3"/><circle cx="209.3" cy="361.3" r="4.3"/><circle cx="209.3" cy="369.3" r="4.3"/><circle cx="197.4" cy="355.2" r="4.3"/><circle cx="200.6" cy="350.9" r="4.3"/><circle cx="207.8" cy="350.9" r="4.3"/><circle cx="214.7" cy="352.0" r="4.3"/><circle cx="218.0" cy="346.6" r="4.3"/><circle cx="223.4" cy="342.2" r="4.3"/><circle cx="219.1" cy="332.5" r="4.3"/><circle cx="223.4" cy="333.6" r="4.3"/><circle cx="229.9" cy="326.4" r="4.3"/><circle cx="190.2" cy="333.6" r="4.3"/><circle cx="226.6" cy="311.9" r="4.3"/><circle cx="231.0" cy="308.2" r="4.3"/><circle cx="234.2" cy="314.1" r="4.3"/><circle cx="239.6" cy="310.4" r="4.3"/><circle cx="238.6" cy="303.2" r="4.3"/><circle cx="242.9" cy="301.1" r="4.3"/><circle cx="277.8" cy="268.4" r="4.3"/><circle cx="292.1" cy="275.3" r="4.3"/><circle cx="281.7" cy="276.4" r="4.3"/><circle cx="282.8" cy="282.5" r="4.3"/><circle cx="286.1" cy="285.7" r="4.3"/><circle cx="273.5" cy="282.9" r="4.3"/><circle cx="265.9" cy="289.6" r="4.3"/><circle cx="259.0" cy="294.0" r="4.3"/><circle cx="252.5" cy="294.4" r="4.3"/><circle cx="247.1" cy="294.4" r="4.3"/><circle cx="241.7" cy="300.2" r="4.3"/><circle cx="231.9" cy="307.4" r="4.3"/><circle cx="226.5" cy="311.7" r="4.3"/><circle cx="240.6" cy="310.6" r="4.3"/><circle cx="236.2" cy="315.0" r="4.3"/><circle cx="229.7" cy="326.2" r="4.3"/><circle cx="221.1" cy="332.3" r="4.3"/><circle cx="223.2" cy="342.1" r="4.3"/><circle cx="220.0" cy="346.4" r="4.3"/><circle cx="247.6" cy="294.0" r="4.3"/><circle cx="252.0" cy="295.0" r="4.3"/><circle cx="259.5" cy="293.5" r="4.3"/><circle cx="233.0" cy="307.0" r="4.3"/><circle cx="231.5" cy="308.5" r="4.3"/><circle cx="241.0" cy="301.0" r="4.3"/><circle cx="242.5" cy="299.5" r="4.3"/><circle cx="219.5" cy="333.0" r="4.3"/><circle cx="223.0" cy="334.5" r="4.3"/><circle cx="218.5" cy="346.0" r="4.3"/><circle cx="197.8" cy="364.0" r="4.3"/><circle cx="209.5" cy="370.0" r="4.3"/><circle cx="230.3" cy="308.8" r="4.3"/><circle cx="238.9" cy="311.2" r="4.3"/>
</g>
<path d="M94.2 413.2L278.7 265.0" stroke="#404040" stroke-width="2.5" fill="none"/>
</g>
<rect x="84.9" y="241" width="257.85" height="171.7" fill="none" stroke="#000" stroke-width="2"/>
<path d="M84.9 241v-8.3M84.9 412.7v8.3M104.31 241v-4.3M104.31 412.7v4.3M115.66 241v-4.3M115.66 412.7v4.3M123.71 241v-4.3M123.71 412.7v4.3M129.96 241v-4.3M129.96 412.7v4.3M135.06 241v-4.3M135.06 412.7v4.3M139.38 241v-4.3M139.38 412.7v4.3M143.12 241v-4.3M143.12 412.7v4.3M146.41 241v-4.3M146.41 412.7v4.3M149.36 241v-8.3M149.36 412.7v8.3M168.77 241v-4.3M168.77 412.7v4.3M180.12 241v-4.3M180.12 412.7v4.3M188.17 241v-4.3M188.17 412.7v4.3M194.42 241v-4.3M194.42 412.7v4.3M199.52 241v-4.3M199.52 412.7v4.3M203.84 241v-4.3M203.84 412.7v4.3M207.58 241v-4.3M207.58 412.7v4.3M210.88 241v-4.3M210.88 412.7v4.3M213.83 241v-8.3M213.83 412.7v8.3M233.23 241v-4.3M233.23 412.7v4.3M244.58 241v-4.3M244.58 412.7v4.3M252.64 241v-4.3M252.64 412.7v4.3M258.88 241v-4.3M258.88 412.7v4.3M263.99 241v-4.3M263.99 412.7v4.3M268.3 241v-4.3M268.3 412.7v4.3M272.04 241v-4.3M272.04 412.7v4.3M275.34 241v-4.3M275.34 412.7v4.3M278.29 241v-8.3M278.29 412.7v8.3M297.69 241v-4.3M297.69 412.7v4.3M309.04 241v-4.3M309.04 412.7v4.3M317.1 241v-4.3M317.1 412.7v4.3M323.34 241v-4.3M323.34 412.7v4.3M328.45 241v-4.3M328.45 412.7v4.3M332.76 241v-4.3M332.76 412.7v4.3M336.5 241v-4.3M336.5 412.7v4.3M339.8 241v-4.3M339.8 412.7v4.3M342.75 241v-8.3M342.75 412.7v8.3M84.9 412.7h-8.3M342.75 412.7h8.3M84.9 402.36h-4.3M342.75 402.36h4.3M84.9 396.32h-4.3M342.75 396.32h4.3M84.9 392.03h-4.3M342.75 392.03h4.3M84.9 388.7h-4.3M342.75 388.7h4.3M84.9 385.98h-4.3M342.75 385.98h4.3M84.9 383.68h-4.3M342.75 383.68h4.3M84.9 381.69h-4.3M342.75 381.69h4.3M84.9 379.93h-4.3M342.75 379.93h4.3M84.9 378.36h-8.3M342.75 378.36h8.3M84.9 368.02h-4.3M342.75 368.02h4.3M84.9 361.98h-4.3M342.75 361.98h4.3M84.9 357.69h-4.3M342.75 357.69h4.3M84.9 354.36h-4.3M342.75 354.36h4.3M84.9 351.64h-4.3M342.75 351.64h4.3M84.9 349.34h-4.3M342.75 349.34h4.3M84.9 347.35h-4.3M342.75 347.35h4.3M84.9 345.59h-4.3M342.75 345.59h4.3M84.9 344.02h-8.3M342.75 344.02h8.3M84.9 333.68h-4.3M342.75 333.68h4.3M84.9 327.64h-4.3M342.75 327.64h4.3M84.9 323.35h-4.3M342.75 323.35h4.3M84.9 320.02h-4.3M342.75 320.02h4.3M84.9 317.3h-4.3M342.75 317.3h4.3M84.9 315h-4.3M342.75 315h4.3M84.9 313.01h-4.3M342.75 313.01h4.3M84.9 311.25h-4.3M342.75 311.25h4.3M84.9 309.68h-8.3M342.75 309.68h8.3M84.9 299.34h-4.3M342.75 299.34h4.3M84.9 293.3h-4.3M342.75 293.3h4.3M84.9 289.01h-4.3M342.75 289.01h4.3M84.9 285.68h-4.3M342.75 285.68h4.3M84.9 282.96h-4.3M342.75 282.96h4.3M84.9 280.66h-4.3M342.75 280.66h4.3M84.9 278.67h-4.3M342.75 278.67h4.3M84.9 276.91h-4.3M342.75 276.91h4.3M84.9 275.34h-8.3M342.75 275.34h8.3M84.9 265h-4.3M342.75 265h4.3M84.9 258.96h-4.3M342.75 258.96h4.3M84.9 254.67h-4.3M342.75 254.67h4.3M84.9 251.34h-4.3M342.75 251.34h4.3M84.9 248.62h-4.3M342.75 248.62h4.3M84.9 246.32h-4.3M342.75 246.32h4.3M84.9 244.33h-4.3M342.75 244.33h4.3M84.9 242.57h-4.3M342.75 242.57h4.3M84.9 241h-8.3M342.75 241h8.3" stroke="#000" stroke-width="1.85" fill="none"/>
<text x="69.8" y="418.7" text-anchor="end"  font-size="17.8">0.01</text>
<text x="69.8" y="384.36" text-anchor="end"  font-size="17.8">0.1</text>
<text x="69.8" y="350.02" text-anchor="end"  font-size="17.8">1</text>
<text x="69.8" y="315.68" text-anchor="end"  font-size="17.8">10</text>
<text x="69.8" y="281.34" text-anchor="end"  font-size="17.8">100</text>
<text x="69.8" y="247" text-anchor="end"  font-size="17.8">1000</text>
<text x="84.9" y="441.1" text-anchor="middle"  font-size="17.8">0.01</text>
<text x="149.36" y="441.1" text-anchor="middle"  font-size="17.8">0.1</text>
<text x="213.83" y="441.1" text-anchor="middle"  font-size="17.8">1</text>
<text x="278.29" y="441.1" text-anchor="middle"  font-size="17.8">10</text>
<text x="342.75" y="441.1" text-anchor="middle"  font-size="17.8">100</text>
<text x="213.82" y="475.6" text-anchor="middle"  font-size="20.3">Arias[m/s<tspan font-size="13.5" dy="-8.5">2</tspan><tspan dy="8.5">]</tspan></text>
<text transform="translate(19.9 326.3) rotate(-90)" text-anchor="middle"  font-size="20.5"><tspan font-style="italic">D</tspan><tspan font-size="13.8" dy="5">n</tspan><tspan dy="-5">(cm)</tspan></text>
<text x="333.9" y="402.6" text-anchor="end"  font-size="20"><tspan font-style="italic">A</tspan><tspan font-size="13" dy="6">c</tspan><tspan dy="-6">0.1g</tspan></text>
<clipPath id="cp3"><rect x="414" y="241" width="257.9" height="171.7"/></clipPath>
<g clip-path="url(#cp3)">
<g fill="#00ffff" fill-opacity="0.8" stroke-opacity="0.8" stroke="#000" stroke-width="0.9">
<rect x="651.5" y="266.8" width="7.7" height="7.7"/><rect x="533.4" y="324.0" width="7.7" height="7.7"/><rect x="553.1" y="316.4" width="7.7" height="7.7"/><rect x="544.5" y="349.6" width="7.7" height="7.7"/><rect x="546.9" y="343.0" width="7.7" height="7.7"/><rect x="550.6" y="343.8" width="7.7" height="7.7"/><rect x="563.4" y="312.8" width="7.7" height="7.7"/><rect x="562.4" y="331.9" width="7.7" height="7.7"/><rect x="565.4" y="327.0" width="7.7" height="7.7"/><rect x="570.4" y="317.2" width="7.7" height="7.7"/><rect x="574.0" y="302.4" width="7.7" height="7.7"/><rect x="579.8" y="296.2" width="7.7" height="7.7"/><rect x="581.4" y="303.6" width="7.7" height="7.7"/><rect x="587.5" y="289.6" width="7.7" height="7.7"/><rect x="591.2" y="287.6" width="7.7" height="7.7"/><rect x="596.1" y="284.8" width="7.7" height="7.7"/><rect x="606.0" y="282.8" width="7.7" height="7.7"/><rect x="590.0" y="303.6" width="7.7" height="7.7"/><rect x="586.4" y="311.0" width="7.7" height="7.7"/><rect x="576.5" y="309.8" width="7.7" height="7.7"/><rect x="570.4" y="311.0" width="7.7" height="7.7"/><rect x="574.0" y="311.0" width="7.7" height="7.7"/><rect x="580.2" y="307.3" width="7.7" height="7.7"/><rect x="583.9" y="313.5" width="7.7" height="7.7"/><rect x="578.9" y="301.2" width="7.7" height="7.7"/><rect x="575.1" y="304.6" width="7.7" height="7.7"/><rect x="582.1" y="299.6" width="7.7" height="7.7"/><rect x="588.6" y="289.1" width="7.7" height="7.7"/><rect x="593.1" y="286.6" width="7.7" height="7.7"/>
</g>
<g fill="#ff007f" fill-opacity="0.8" stroke-opacity="0.8" stroke="#000" stroke-width="0.9">
<circle cx="621.5" cy="286.1" r="4.3"/><circle cx="611.1" cy="291.0" r="4.3"/><circle cx="614.8" cy="296.0" r="4.3"/><circle cx="602.5" cy="295.2" r="4.3"/><circle cx="595.1" cy="310.0" r="4.3"/><circle cx="607.4" cy="324.0" r="4.3"/><circle cx="588.5" cy="322.3" r="4.3"/><circle cx="581.6" cy="319.1" r="4.3"/><circle cx="574.2" cy="316.1" r="4.3"/><circle cx="571.3" cy="328.4" r="4.3"/><circle cx="576.2" cy="332.9" r="4.3"/><circle cx="570.5" cy="339.0" r="4.3"/><circle cx="568.6" cy="346.9" r="4.3"/><circle cx="552.1" cy="384.7" r="4.3"/><circle cx="588.9" cy="322.7" r="4.3"/><circle cx="607.7" cy="324.3" r="4.3"/><circle cx="611.4" cy="290.6" r="4.3"/><circle cx="571.6" cy="328.8" r="4.3"/><circle cx="588.2" cy="321.9" r="4.3"/>
</g>
<path d="M491.8 412.5L607.9 278.8" stroke="#404040" stroke-width="2.5" fill="none"/>
</g>
<rect x="414" y="241" width="257.9" height="171.7" fill="none" stroke="#000" stroke-width="2"/>
<path d="M414 241v-8.3M414 412.7v8.3M433.41 241v-4.3M433.41 412.7v4.3M444.76 241v-4.3M444.76 412.7v4.3M452.82 241v-4.3M452.82 412.7v4.3M459.07 241v-4.3M459.07 412.7v4.3M464.17 241v-4.3M464.17 412.7v4.3M468.49 241v-4.3M468.49 412.7v4.3M472.23 241v-4.3M472.23 412.7v4.3M475.52 241v-4.3M475.52 412.7v4.3M478.48 241v-8.3M478.48 412.7v8.3M497.88 241v-4.3M497.88 412.7v4.3M509.24 241v-4.3M509.24 412.7v4.3M517.29 241v-4.3M517.29 412.7v4.3M523.54 241v-4.3M523.54 412.7v4.3M528.65 241v-4.3M528.65 412.7v4.3M532.96 241v-4.3M532.96 412.7v4.3M536.7 241v-4.3M536.7 412.7v4.3M540 241v-4.3M540 412.7v4.3M542.95 241v-8.3M542.95 412.7v8.3M562.36 241v-4.3M562.36 412.7v4.3M573.71 241v-4.3M573.71 412.7v4.3M581.77 241v-4.3M581.77 412.7v4.3M588.02 241v-4.3M588.02 412.7v4.3M593.12 241v-4.3M593.12 412.7v4.3M597.44 241v-4.3M597.44 412.7v4.3M601.18 241v-4.3M601.18 412.7v4.3M604.47 241v-4.3M604.47 412.7v4.3M607.42 241v-8.3M607.42 412.7v8.3M626.83 241v-4.3M626.83 412.7v4.3M638.19 241v-4.3M638.19 412.7v4.3M646.24 241v-4.3M646.24 412.7v4.3M652.49 241v-4.3M652.49 412.7v4.3M657.6 241v-4.3M657.6 412.7v4.3M661.91 241v-4.3M661.91 412.7v4.3M665.65 241v-4.3M665.65 412.7v4.3M668.95 241v-4.3M668.95 412.7v4.3M671.9 241v-8.3M671.9 412.7v8.3M414 412.7h-8.3M671.9 412.7h8.3M414 402.36h-4.3M671.9 402.36h4.3M414 396.32h-4.3M671.9 396.32h4.3M414 392.03h-4.3M671.9 392.03h4.3M414 388.7h-4.3M671.9 388.7h4.3M414 385.98h-4.3M671.9 385.98h4.3M414 383.68h-4.3M671.9 383.68h4.3M414 381.69h-4.3M671.9 381.69h4.3M414 379.93h-4.3M671.9 379.93h4.3M414 378.36h-8.3M671.9 378.36h8.3M414 368.02h-4.3M671.9 368.02h4.3M414 361.98h-4.3M671.9 361.98h4.3M414 357.69h-4.3M671.9 357.69h4.3M414 354.36h-4.3M671.9 354.36h4.3M414 351.64h-4.3M671.9 351.64h4.3M414 349.34h-4.3M671.9 349.34h4.3M414 347.35h-4.3M671.9 347.35h4.3M414 345.59h-4.3M671.9 345.59h4.3M414 344.02h-8.3M671.9 344.02h8.3M414 333.68h-4.3M671.9 333.68h4.3M414 327.64h-4.3M671.9 327.64h4.3M414 323.35h-4.3M671.9 323.35h4.3M414 320.02h-4.3M671.9 320.02h4.3M414 317.3h-4.3M671.9 317.3h4.3M414 315h-4.3M671.9 315h4.3M414 313.01h-4.3M671.9 313.01h4.3M414 311.25h-4.3M671.9 311.25h4.3M414 309.68h-8.3M671.9 309.68h8.3M414 299.34h-4.3M671.9 299.34h4.3M414 293.3h-4.3M671.9 293.3h4.3M414 289.01h-4.3M671.9 289.01h4.3M414 285.68h-4.3M671.9 285.68h4.3M414 282.96h-4.3M671.9 282.96h4.3M414 280.66h-4.3M671.9 280.66h4.3M414 278.67h-4.3M671.9 278.67h4.3M414 276.91h-4.3M671.9 276.91h4.3M414 275.34h-8.3M671.9 275.34h8.3M414 265h-4.3M671.9 265h4.3M414 258.96h-4.3M671.9 258.96h4.3M414 254.67h-4.3M671.9 254.67h4.3M414 251.34h-4.3M671.9 251.34h4.3M414 248.62h-4.3M671.9 248.62h4.3M414 246.32h-4.3M671.9 246.32h4.3M414 244.33h-4.3M671.9 244.33h4.3M414 242.57h-4.3M671.9 242.57h4.3M414 241h-8.3M671.9 241h8.3" stroke="#000" stroke-width="1.85" fill="none"/>
<text x="398.9" y="418.7" text-anchor="end"  font-size="17.8">0.01</text>
<text x="398.9" y="384.36" text-anchor="end"  font-size="17.8">0.1</text>
<text x="398.9" y="350.02" text-anchor="end"  font-size="17.8">1</text>
<text x="398.9" y="315.68" text-anchor="end"  font-size="17.8">10</text>
<text x="398.9" y="281.34" text-anchor="end"  font-size="17.8">100</text>
<text x="398.9" y="247" text-anchor="end"  font-size="17.8">1000</text>
<text x="414" y="441.1" text-anchor="middle"  font-size="17.8">0.01</text>
<text x="478.48" y="441.1" text-anchor="middle"  font-size="17.8">0.1</text>
<text x="542.95" y="441.1" text-anchor="middle"  font-size="17.8">1</text>
<text x="607.42" y="441.1" text-anchor="middle"  font-size="17.8">10</text>
<text x="671.9" y="441.1" text-anchor="middle"  font-size="17.8">100</text>
<text x="542.95" y="475.6" text-anchor="middle"  font-size="20.3">Arias[m/s<tspan font-size="13.5" dy="-8.5">2</tspan><tspan dy="8.5">]</tspan></text>
<text x="665.5" y="401.9" text-anchor="end"  font-size="20"><tspan font-style="italic">A</tspan><tspan font-size="13" dy="6">c</tspan><tspan dy="-6">0.2g</tspan></text>
<rect x="84.3" y="0.9" width="452.1" height="28.2" fill="#fff" stroke="none"/>
<path d="M83.5 1H537" stroke="#2a2a2a" stroke-width="1" fill="none"/>
<path d="M84 0.5V29.9" stroke="#000" stroke-width="1" fill="none"/>
<path d="M536.5 0.5V29.9" stroke="#333" stroke-width="1.1" fill="none"/>
<path d="M83.5 29.3H537" stroke="#1a1a1a" stroke-width="1.3" fill="none"/>
<rect x="106.3" y="11.4" width="7.8" height="7.8" fill="#33ffff" stroke="#045" stroke-width="0.9"/>
<circle cx="324.5" cy="15.3" r="4.3" fill="#ff3399" stroke="#603" stroke-width="0.9"/>
<text x="138.4" y="21.9"  font-size="20.2" textLength="163.6" lengthAdjust="spacingAndGlyphs">Pazarclk earthquake</text>
<text x="354.2" y="21.9"  font-size="20.2" textLength="179.8" lengthAdjust="spacingAndGlyphs">Wenchuan earthquake</text>
</svg>
</body></html>
